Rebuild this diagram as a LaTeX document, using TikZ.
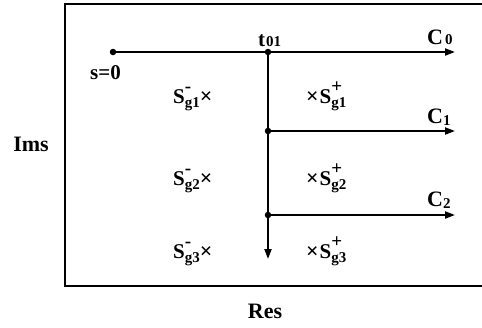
\documentclass[tikz,border=0pt]{standalone}
\usepackage{fontspec}
\setmainfont{Liberation Serif}
\usetikzlibrary{arrows.meta}
\newcommand\fs[1]{\fontsize{#1}{#1}\selectfont}
\newcommand\SLab[2]{S\rlap{\raisebox{0.48em}{\fs{19}#2}}\raisebox{-0.2em}{\fs{15}#1}}
\newcommand\crs{{\fs{22}×}}
\begin{document}
\begin{tikzpicture}[x=1pt,y=-1pt,
  lab/.style={inner sep=0pt,font=\bfseries},
  dotnode/.style={circle,fill=black,inner sep=0pt,minimum size=6.5pt},
  path/.style={line width=2.1pt,-{Triangle[length=10pt,width=7pt]}},
  frame/.style={line width=1.6pt}]
\useasboundingbox (0,0) rectangle (482,327);
% frame
\draw[frame] (492,4) -- (65,4) -- (65,286) -- (492,286);
% junction dots
\node[dotnode] (s0) at (113,52) {};
\node[dotnode] (t) at (268,52) {};
\node[dotnode] (j1) at (268,131) {};
\node[dotnode] (j2) at (268,215) {};
\coordinate (e0) at (455,52);
\coordinate (e1) at (455,131);
\coordinate (e2) at (455,215);
\coordinate (ev) at (268,259);
% lines
\draw[path] (s0.center) -- (e0);
\draw[path] (t.center) -- (ev);
\draw[path] (j1.center) -- (e1);
\draw[path] (j2.center) -- (e2);
% labels
\node[lab,anchor=base west] (lt) at (258,46) {\fs{21}t\hspace{1pt}\fs{15}01};
\node[lab,anchor=base west] (lc0) at (427,44) {\fs{22}C\hspace{2pt}\fs{15}0};
\node[lab,anchor=base west] (lc1) at (427,123) {\fs{22}C\raisebox{-0.12em}{\fs{15}1}};
\node[lab,anchor=base west] (lc2) at (427,206) {\fs{22}C\raisebox{-0.12em}{\fs{15}2}};
\node[lab,anchor=base west] (ls0) at (90,79) {\fs{21}s=0};
\node[lab,anchor=base west] (sm1) at (173,103) {\fs{21}\SLab{g1}{-}\crs};
\node[lab,anchor=base west] (sp1) at (306,103) {\fs{21}\crs\hspace{1pt}\SLab{g1}{+}};
\node[lab,anchor=base west] (sm2) at (173,185) {\fs{21}\SLab{g2}{-}\crs};
\node[lab,anchor=base west] (sp2) at (306,185) {\fs{21}\crs\hspace{1pt}\SLab{g2}{+}};
\node[lab,anchor=base west] (sm3) at (173,258) {\fs{21}\SLab{g3}{-}\crs};
\node[lab,anchor=base west] (sp3) at (306,258) {\fs{21}\crs\hspace{1pt}\SLab{g3}{+}};
\node[lab,anchor=base] (ims) at (31,151) {\fs{22}Ims};
\node[lab,anchor=base] (res) at (265,318) {\fs{22}Res};
\end{tikzpicture}
\end{document}
